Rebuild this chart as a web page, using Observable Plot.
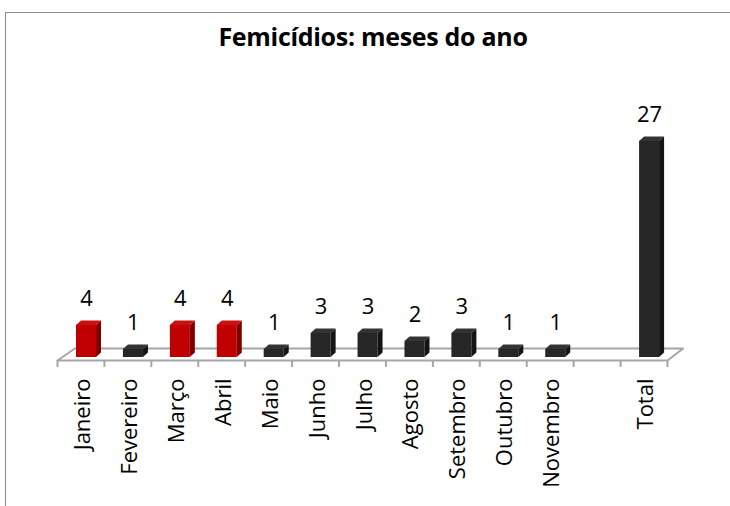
<!DOCTYPE html>
<html>
<head>
<meta charset="utf-8">
<script src="https://cdn.jsdelivr.net/npm/d3@7"></script>
<script src="https://cdn.jsdelivr.net/npm/@observablehq/plot@0.6"></script>
<style>
  html, body { margin: 0; padding: 0; background: #fff; }
  #wrap { position: relative; width: 730px; height: 506px; overflow: hidden; font-family: "Open Sans", sans-serif; }
  #border { position: absolute; left: 5px; top: 12px; width: 740px; height: 520px; border: 1px solid #8a8a8a; box-sizing: border-box; }
  #title { position: absolute; left: 8px; top: 19px; width: 730px; text-align: center; font-weight: bold; font-size: 25px; letter-spacing: -0.3px; color: #000; }
  #chart { position: absolute; left: 0; top: 0; }
</style>
</head>
<body>
<div id="wrap">
  <div id="border"></div>
  <div id="title">Femicídios: meses do ano</div>
  <div id="chart"></div>
</div>
<script>
const categorias = ["Janeiro","Fevereiro","Março","Abril","Maio","Junho","Julho","Agosto","Setembro","Outubro","Novembro","","Total"];
const valores = [4,1,4,4,1,3,3,2,3,1,1,null,27];
const destaque = ["Janeiro","Março","Abril"];

// style constants (3D look), in scale units
const FRONT0 = 0.405, FRONTW = 0.426, SIDE = 0.107, DEPTH = 0.5625;
const FLOOR_FRONT = -0.375, FLOOR_BACK = 1.125, FLOOR_DX = 0.37;

const bars = categorias.map((c, i) => ({c, i, v: valores[i]})).filter(d => d.v != null);
const color = d => destaque.includes(d.c) ? ["#c00000", "#800000", "#c81010"] : ["#262626", "#141414", "#333333"];

const frontFaces = bars.map(d => ({x1: d.i + FRONT0, x2: d.i + FRONT0 + FRONTW, v: d.v, fill: color(d)[0]}));
const sideFaces = bars.flatMap(d => {
  const xr = d.i + FRONT0 + FRONTW;
  return [
    {id: d.i, x: xr, y1: 0, y2: d.v, fill: color(d)[1]},
    {id: d.i, x: xr + SIDE, y1: DEPTH, y2: d.v + DEPTH, fill: color(d)[1]}
  ];
});
const topFaces = bars.flatMap(d => {
  const xl = d.i + FRONT0, xr = xl + FRONTW, f = color(d)[2];
  return [
    {id: d.i, x: xl, y1: d.v, y2: d.v, fill: f},
    {id: d.i, x: xl + SIDE, y1: d.v, y2: d.v + DEPTH, fill: f},
    {id: d.i, x: xr, y1: d.v, y2: d.v + DEPTH, fill: f},
    {id: d.i, x: xr + SIDE, y1: d.v + DEPTH, y2: d.v + DEPTH, fill: f}
  ];
});
const n = categorias.length;
const floorLine = [
  {x: 0, y: FLOOR_FRONT}, {x: n, y: FLOOR_FRONT}, {x: n + FLOOR_DX * 0.9, y: FLOOR_BACK},
  {x: FLOOR_DX, y: FLOOR_BACK}, {x: 0, y: FLOOR_FRONT}
];
const tickPos = d3.range(n + 1);
const labels = categorias.map((c, i) => ({c, x: i + 0.5}));

const chart = Plot.plot({
  width: 730, height: 506,
  marginLeft: 57, marginRight: 63, marginTop: 37, marginBottom: 149,
  x: {domain: [0, n], axis: null},
  y: {domain: [0, 40], axis: null},
  color: {type: "identity"},
  style: {fontFamily: "Open Sans, sans-serif", background: "transparent", overflow: "visible"},
  marks: [
    Plot.line(floorLine, {x: "x", y: "y", stroke: "#a6a6a6", strokeWidth: 2}),
    Plot.ruleX(tickPos, {x: d => d, y1: FLOOR_FRONT, y2: -1.25, stroke: "#a6a6a6", strokeWidth: 2}),
    Plot.rect(frontFaces, {x1: "x1", x2: "x2", y1: 0, y2: "v", fill: "fill"}),
    Plot.area(sideFaces, {x1: "x", y1: "y1", y2: "y2", z: "id", fill: "fill", curve: "linear"}),
    Plot.area(topFaces, {x1: "x", y1: "y1", y2: "y2", z: "id", fill: "fill", curve: "linear"}),
    Plot.text(bars, {x: d => d.i + FRONT0 + FRONTW / 2, y: "v", text: d => String(d.v), dy: -27, fontSize: 22, fill: "#000", lineAnchor: "middle"}),
    Plot.text(labels, {x: "x", y: -2.625, text: "c", rotate: -90, textAnchor: "end", lineAnchor: "middle", dx: 2, fontSize: 22, fill: "#000"})
  ]
});
document.getElementById("chart").appendChild(chart);
</script>
</body>
</html>
